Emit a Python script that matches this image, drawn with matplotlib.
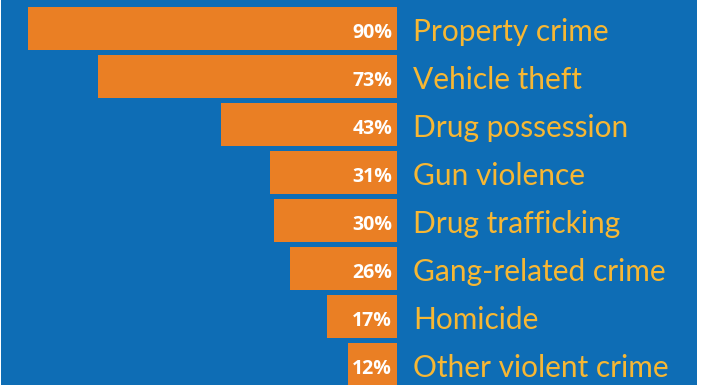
import matplotlib.pyplot as plt

categories = ["Property crime", "Vehicle theft", "Drug possession", "Gun violence",
              "Drug trafficking", "Gang-related crime", "Homicide", "Other violent crime"]
values = [90, 73, 43, 31, 30, 26, 17, 12]

blue = "#0e6db5"
orange = "#ea7f24"
yellow = "#f7b733"

fig = plt.figure(figsize=(7.06, 3.85), dpi=100, facecolor="white")
ax = fig.add_axes([1 / 706, 0, 696 / 706, 1])
ax.set_facecolor(blue)

y = list(range(len(values)))
ax.barh(y, values, height=0.896, color=orange)

for i, (v, c) in enumerate(zip(values, categories)):
    ax.text(1.2, i + 0.1, f"{v}%", ha="right", va="center", color="white",
            fontsize=14, fontweight="bold", family="Open Sans")
    ax.text(-3.9, i + 0.08, c, ha="left", va="center", color=yellow,
            fontsize=21.5, family="Lato")

# x grows leftward from the right edge of the bars
ax.set_xlim(96.59, -73.17)
ax.set_ylim(7.427, -0.594)
ax.set_xticks([])
ax.set_yticks([])
for s in ax.spines.values():
    s.set_visible(False)

fig.savefig("out.png", dpi=100, facecolor="white")
